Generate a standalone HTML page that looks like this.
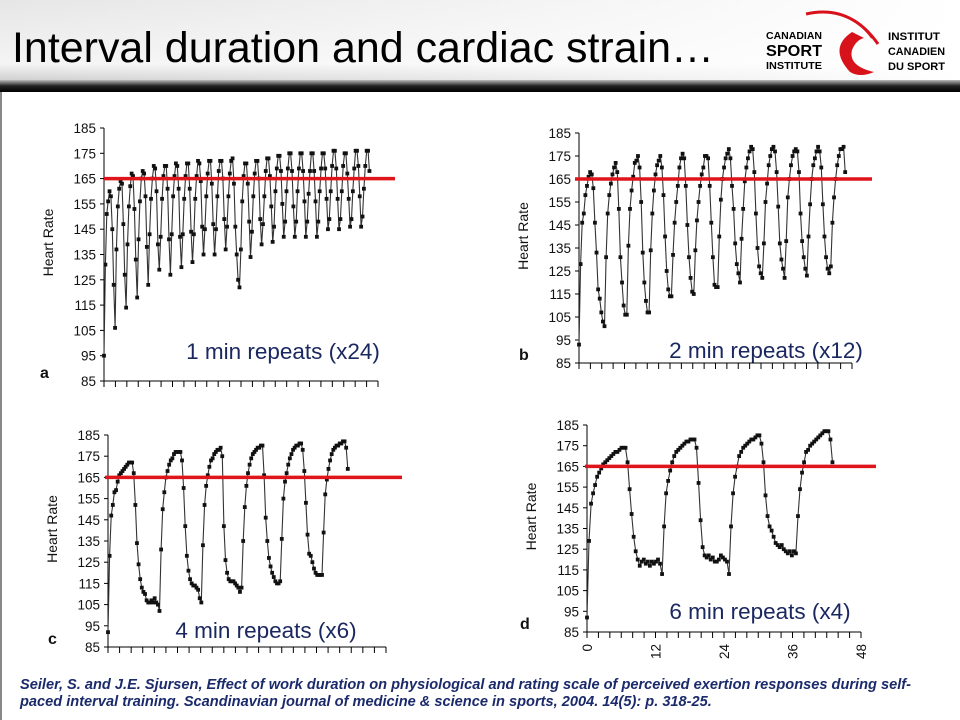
<!DOCTYPE html>
<html><head><meta charset="utf-8"><style>
html,body{margin:0;padding:0;background:#fff;width:960px;height:720px;overflow:hidden;font-family:"Liberation Sans",Arial,sans-serif;}
#wrap{position:relative;width:960px;height:720px;}
svg{position:absolute;left:0;top:0;}
.cite{position:absolute;left:20px;top:677px;width:940px;white-space:nowrap;font-weight:bold;font-style:italic;font-size:14.6px;line-height:17px;color:#1b2a6b;}
</style></head><body><div id="wrap">
<svg id="svg" width="960" height="720">
<defs>
<linearGradient id="hdr" x1="0" y1="0" x2="0" y2="1"><stop offset="0" stop-color="#e6e6e6"/><stop offset="0.8" stop-color="#f4f4f4"/><stop offset="1" stop-color="#d0d0d0"/></linearGradient>
<linearGradient id="bar" x1="0" y1="0" x2="0" y2="1"><stop offset="0" stop-color="#bbb"/><stop offset="0.5" stop-color="#222"/><stop offset="1" stop-color="#000"/></linearGradient>
<linearGradient id="fade" x1="0" y1="0" x2="1" y2="0"><stop offset="0" stop-color="#fff" stop-opacity="0"/><stop offset="0.6" stop-color="#fff" stop-opacity="0.6"/><stop offset="1" stop-color="#fff" stop-opacity="1"/></linearGradient>
</defs>
<rect x="0" y="0" width="960" height="80" fill="url(#hdr)"/>
<rect x="0" y="0" width="960" height="80" fill="url(#fade)"/>
<rect x="0" y="80" width="960" height="12" fill="url(#bar)"/>
<rect x="0" y="92" width="2" height="628" fill="#888"/>
<text x="12" y="62" font-size="43" textLength="702" lengthAdjust="spacingAndGlyphs" fill="#000">Interval duration and cardiac strain…</text>
<g>
<text x="794" y="39" font-size="10" font-weight="bold" text-anchor="middle" textLength="56" lengthAdjust="spacingAndGlyphs">CANADIAN</text>
<text x="794" y="56" font-size="16" font-weight="bold" text-anchor="middle" textLength="56" lengthAdjust="spacingAndGlyphs">SPORT</text>
<text x="794" y="69" font-size="10" font-weight="bold" text-anchor="middle" textLength="56" lengthAdjust="spacingAndGlyphs">INSTITUTE</text>
<text x="888" y="40" font-size="11" font-weight="bold" textLength="52" lengthAdjust="spacingAndGlyphs">INSTITUT</text>
<text x="888" y="55" font-size="11" font-weight="bold" textLength="57" lengthAdjust="spacingAndGlyphs">CANADIEN</text>
<text x="888" y="70" font-size="11" font-weight="bold" textLength="57" lengthAdjust="spacingAndGlyphs">DU SPORT</text>
<path d="M806 14 Q850 4 878 44" stroke="#d8121b" stroke-width="3" fill="none"/>
<path d="M815 12 Q852 10 872 38" stroke="#d8121b" stroke-width="2" fill="none"/>
<path d="M852 32 Q828 48 850 72 Q860 78 874 72 Q848 66 852 50 Q856 40 864 38 Z" fill="#d8121b"/>
</g>
</svg>
<div class="cite">Seiler, S. and J.E. Sjursen, Effect of work duration on physiological and rating scale of perceived exertion responses during self-<br>paced interval training. Scandinavian journal of medicine &amp; science in sports, 2004. 14(5): p. 318-25.</div>
</div>
<script>
const yTicks=[85,95,105,115,125,135,145,155,165,175,185];
const xTickLabels=[0,12,24,36,48];
const threshold=165;
const durA=46.5, durB=46.8, durC=41.4, durD=43;
const hrA=[95,131,151,156,160,158,145,123,106,137,154,161,164,163,147,127,114,139,154,162,167,166,153,133,118,141,156,165,168,167,158,138,123,143,157,165,170,169,160,139,129,142,157,166,170,170,161,141,127,143,158,166,171,170,161,142,130,143,157,166,171,171,161,144,132,143,157,166,172,171,164,146,135,145,158,167,172,172,163,147,135,145,158,168,172,172,165,149,137,146,158,167,172,173,163,146,135,125,122,137,156,166,171,171,163,148,134,144,158,167,172,172,165,149,139,147,158,168,173,173,166,154,140,146,160,169,174,174,168,155,142,148,160,169,175,175,168,154,142,148,160,169,175,175,168,156,142,148,159,168,175,175,168,156,142,148,160,169,175,175,169,157,145,149,160,170,176,176,169,157,145,149,160,170,175,175,167,157,146,149,160,169,176,176,170,158,146,150,161,170,176,176,168];
const hrB=[93,128,146,150,158,162,166,168,167,161,146,133,117,113,107,103,101,131,150,158,163,167,170,172,168,152,131,120,110,106,106,136,152,160,166,172,173,175,170,155,133,120,112,107,107,134,150,160,167,171,173,175,170,158,140,125,117,114,114,132,146,155,162,170,174,176,174,162,145,131,122,116,115,134,147,155,162,167,170,175,175,174,162,146,131,119,118,118,140,156,165,170,174,176,178,174,162,152,137,128,124,120,139,152,164,170,174,177,179,178,168,150,135,127,124,122,137,155,163,171,175,178,179,177,168,153,137,130,126,122,138,157,165,171,175,177,178,177,168,150,138,131,126,123,140,154,165,171,174,177,179,177,170,154,140,131,126,124,127,146,157,165,171,175,178,178,179,168];
const hrC=[92,128,147,152,158,159,163,166,167,168,169,170,171,172,172,172,167,152,134,124,117,113,111,110,107,106,106,107,106,108,106,105,102,131,150,158,165,168,171,173,174,176,177,177,177,177,173,160,142,128,121,117,115,114,114,113,112,108,106,133,152,161,166,170,173,174,176,177,178,178,179,175,142,126,120,117,116,116,116,115,114,113,111,113,135,151,161,167,171,174,176,177,178,179,179,180,180,166,146,135,127,123,120,118,116,115,115,116,136,155,163,167,171,174,176,178,179,180,180,181,181,178,168,153,138,129,128,125,122,120,119,119,119,119,139,157,164,169,173,176,178,179,180,180,181,181,182,182,179,169];
const hrD=[92,129,147,152,156,160,162,164,166,167,168,169,170,171,172,172,173,174,174,174,167,154,142,131,124,120,117,119,120,118,119,117,119,118,119,120,118,113,136,152,158,163,167,170,172,173,174,175,176,177,177,178,178,178,174,157,139,126,122,121,122,120,121,119,119,120,122,121,120,119,113,136,152,160,165,170,172,174,175,176,177,178,178,179,180,180,176,167,151,141,136,134,131,128,127,126,127,125,124,123,124,122,124,123,141,154,162,167,172,173,175,176,177,178,179,180,181,182,182,182,178,167];
const panels=[
 {id:'a',data:hrA,dur:durA,x0:104,x1:378,yTop:128,yBot:381,redX0:104,redX1:395,label:'1 min repeats (x24)',lx:283,ly:359,letterX:40,xl:false},
 {id:'b',data:hrB,dur:durB,x0:579,x1:852,yTop:133,yBot:363,redX0:575,redX1:872,label:'2 min repeats (x12)',lx:766,ly:358,letterX:519,xl:false},
 {id:'c',data:hrC,dur:durC,x0:108,x1:386,yTop:435,yBot:647,redX0:105,redX1:402,label:'4 min repeats (x6)',lx:266,ly:638,letterX:48,xl:false},
 {id:'d',data:hrD,dur:durD,x0:587,x1:861,yTop:425,yBot:632,redX0:585,redX1:876,label:'6 min repeats (x4)',lx:760,ly:619,letterX:520,xl:true}
];
const NS='http://www.w3.org/2000/svg';
const svg=document.getElementById('svg');
function mk(tag,attrs,parent){const e=document.createElementNS(NS,tag);for(const k in attrs)e.setAttribute(k,attrs[k]);(parent||svg).appendChild(e);return e;}
panels.forEach(p=>{
 const g=mk('g',{});
 
 
 const ys=v=>p.yBot-(v-85)/100*(p.yBot-p.yTop);
 const xs=t=>p.x0+t/48*(p.x1-p.x0);
 const ax=mk('line',{x1:p.x0,y1:p.yTop,x2:p.x0,y2:p.yBot,stroke:'#000','stroke-width':1},g);
 
 
 const xa=mk('line',{x1:p.x0,y1:p.yBot,x2:p.x1,y2:p.yBot,stroke:'#000','stroke-width':1},g);
 
 
 yTicks.forEach(v=>{
  mk('line',{x1:p.x0-4,y1:ys(v),x2:p.x0,y2:ys(v),stroke:'#000'},g);
  const t=mk('text',{x:p.x0-8,y:ys(v)+5,'font-size':13.5,'text-anchor':'end',fill:'#111'},g);
  t.textContent=v;
  
  
 });
 for(let m=0;m<=48;m+=2){mk('line',{x1:xs(m),y1:p.yBot,x2:xs(m),y2:p.yBot+6,stroke:'#000'},g);}
 if(p.xl){xTickLabels.forEach(m=>{
  const t=mk('text',{x:xs(m)+5,y:p.yBot+12,'font-size':13.5,'text-anchor':'end',fill:'#111',transform:'rotate(-90 '+(xs(m)+5)+' '+(p.yBot+12)+')'},g);
  t.textContent=m;
  
  
 });}
 const yt=mk('text',{x:0,y:0,'font-size':14,'text-anchor':'middle',fill:'#111',transform:'translate('+(p.x0-51)+','+((p.yTop+p.yBot)/2-12)+') rotate(-90)'},g);
 yt.textContent='Heart Rate';
 
 
 const lt=mk('text',{x:p.letterX,y:p.yBot-3,'font-size':16,'font-weight':'bold',fill:'#111'},g);
 lt.textContent=p.id;
 
 
 const n=p.data.length;
 const pts=p.data.map((v,i)=>[xs(i*p.dur/(n-1)),ys(v)]);
 const line=mk('polyline',{points:pts.map(q=>q[0].toFixed(1)+','+q[1].toFixed(1)).join(' '),fill:'none',stroke:'#333','stroke-width':1.1},g);
 
 
 pts.forEach(q=>{
  const r=mk('rect',{x:q[0]-1.9,y:q[1]-1.9,width:3.8,height:3.8,fill:'#111'},g);
  
  
 });
 const red=mk('line',{x1:p.redX0,y1:ys(threshold),x2:p.redX1,y2:ys(threshold),stroke:'#e0141b','stroke-width':3.5},g);
 
 
 const lb=mk('text',{x:p.lx,y:p.ly,'font-size':22.5,'text-anchor':'middle',fill:'#1b2860'},g);
 lb.textContent=p.label;
 
 
});
</script>
</body></html>
